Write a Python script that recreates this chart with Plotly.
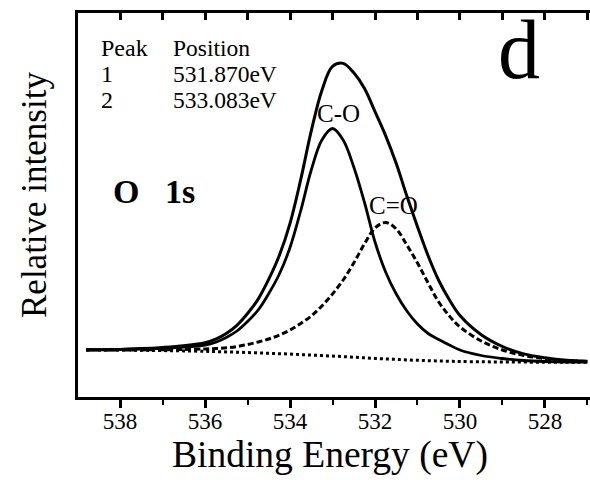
import plotly.graph_objects as go

# Binding energy grid (eV)
energy = [538.8, 538.5, 538.0, 537.5, 537.0, 536.5, 536.0, 535.75, 535.5, 535.25,
          535.0, 534.75, 534.5, 534.25, 534.0, 533.75, 533.5, 533.25, 533.0, 532.75,
          532.5, 532.25, 532.0, 531.75, 531.5, 531.25, 531.0, 530.75, 530.5, 530.25,
          530.0, 529.5, 529.0, 528.5, 528.0, 527.5, 527.0]

# Relative intensities (arbitrary units)
background = [47, 47, 47, 46.7, 46.4, 46.1, 45.7, 45.4, 45.1, 44.8,
              44.5, 44.1, 43.7, 43.3, 42.9, 42.4, 41.9, 41.4, 40.9, 40.4,
              39.8, 39.2, 38.6, 38.1, 37.6, 37.1, 36.7, 36.3, 36.0, 35.7,
              35.5, 35.2, 35.0, 34.9, 34.8, 34.8, 34.8]
peak_co = [47.2, 47.3, 47.6, 48, 48.7, 49.8, 52, 54.8, 59.5, 66,
           75.5, 87, 103.5, 123, 149.5, 186, 227, 257, 268.5, 257,
           230, 195, 155, 125, 103, 86, 73, 63.5, 57.5, 52,
           47, 41.5, 38.5, 36.5, 35.5, 35, 35]
peak_cdo = [47, 47, 47, 47.1, 47.3, 47.6, 48, 48.5, 49.2, 50.5,
            52.5, 55, 58, 62, 67, 73.5, 81, 91, 103, 117,
            134, 153, 169, 174.5, 168, 152, 134, 114, 95, 81,
            70, 56, 47, 41.5, 38.5, 36.5, 35.5]
envelope = [47.2, 47.3, 47.6, 48.4, 49.6, 51.3, 54.3, 57.9, 63.6, 71.7,
            83.5, 97.9, 117.8, 141.7, 173.6, 217.1, 266.1, 306.6, 330.6, 333.6,
            324.2, 308.8, 285.4, 261.4, 233.4, 200.9, 170.3, 141.2, 116.5, 97.3,
            81.5, 62.3, 50.5, 43.1, 39.2, 36.7, 35.7]

table_rows = ["Peak", "1", "2"]
table_pos = ["Position", "531.870eV", "533.083eV"]

FONT = "Liberation Serif"
x_range = [538.99, 526.94]

def pix(x, y):
    return (x - 78) / 512, 1 - (y - 13) / 384

fig = go.Figure()
fig.add_trace(go.Scatter(x=energy, y=background, mode="lines", line_shape="spline",
                         line=dict(color="black", width=3, dash="3px,3px")))
fig.add_trace(go.Scatter(x=energy, y=peak_cdo, mode="lines", line_shape="spline",
                         line=dict(color="black", width=3, dash="6px,3px")))
fig.add_trace(go.Scatter(x=energy, y=peak_co, mode="lines", line_shape="spline",
                         line=dict(color="black", width=2.8)))
fig.add_trace(go.Scatter(x=energy, y=envelope, mode="lines", line_shape="spline",
                         line=dict(color="black", width=3)))
# invisible trace to activate the top axis
fig.add_trace(go.Scatter(x=energy, y=background, xaxis="x2", mode="lines",
                         opacity=0, hoverinfo="skip", line=dict(width=1)))

annotations = []
ys = [48, 74, 100]
for r, p, yy in zip(table_rows, table_pos, ys):
    ax, ay = pix(99, yy)
    annotations.append(dict(text=r, x=ax, y=ay, xref="paper", yref="paper",
                            xanchor="left", yanchor="middle", showarrow=False,
                            font=dict(family=FONT, size=24, color="black")))
    ax, ay = pix(171, yy)
    annotations.append(dict(text=p, x=ax, y=ay, xref="paper", yref="paper",
                            xanchor="left", yanchor="middle", showarrow=False,
                            font=dict(family=FONT, size=23.5, color="black")))

px, py = pix(519, 50)
annotations.append(dict(text="d", x=px, y=py, xref="paper", yref="paper", showarrow=False,
                        xanchor="center", yanchor="middle",
                        font=dict(family=FONT, size=84, color="black")))
px, py = pix(111, 192)
annotations.append(dict(text="<b>O\u00a0\u00a0\u00a01s</b>", x=px, y=py, xref="paper",
                        yref="paper", showarrow=False, xanchor="left", yanchor="middle",
                        font=dict(family=FONT, size=34, color="black")))
px, py = pix(338, 114)
annotations.append(dict(text="C-O", x=px, y=py, xref="paper", yref="paper", showarrow=False,
                        xanchor="center", yanchor="middle",
                        font=dict(family=FONT, size=25, color="black")))
px, py = pix(393, 205)
annotations.append(dict(text="C=O", x=px, y=py, xref="paper", yref="paper", showarrow=False,
                        xanchor="center", yanchor="middle",
                        font=dict(family=FONT, size=25, color="black")))
px, py = pix(35, 195)
annotations.append(dict(text="Relative intensity", x=px, y=py, xref="paper", yref="paper",
                        showarrow=False, xanchor="center", yanchor="middle", textangle=-90,
                        font=dict(family=FONT, size=35, color="black")))
px, py = pix(330, 455)
annotations.append(dict(text="Binding Energy (eV)", x=px, y=py, xref="paper", yref="paper",
                        showarrow=False, xanchor="center", yanchor="middle",
                        font=dict(family=FONT, size=37.5, color="black")))

fig.update_layout(
    width=590, height=480,
    margin=dict(l=78, r=0, t=13, b=83),
    paper_bgcolor="white", plot_bgcolor="white",
    showlegend=False,
    font=dict(family=FONT, color="black"),
    annotations=annotations,
    xaxis=dict(range=x_range, tick0=538, dtick=2, ticks="outside", ticklen=8,
               tickwidth=2.5, tickcolor="black", showline=True, linewidth=3,
               linecolor="black", showgrid=False, zeroline=False,
               ticklabelstandoff=-7,
               tickfont=dict(family=FONT, size=23, color="black"),
               minor=dict(dtick=1, tick0=537, ticks="outside", ticklen=5,
                          tickwidth=2, tickcolor="black", showgrid=False)),
    xaxis2=dict(range=x_range, overlaying="x", side="top", tick0=538, dtick=1,
                ticks="inside", ticklen=7, tickwidth=2.5, tickcolor="black",
                showline=True, linewidth=3, linecolor="black",
                showticklabels=False, showgrid=False, zeroline=False),
    yaxis=dict(range=[0, 384], showline=True, linewidth=3, linecolor="black",
               ticks="", showticklabels=False, showgrid=False, zeroline=False),
)

fig.write_html("out.html")
